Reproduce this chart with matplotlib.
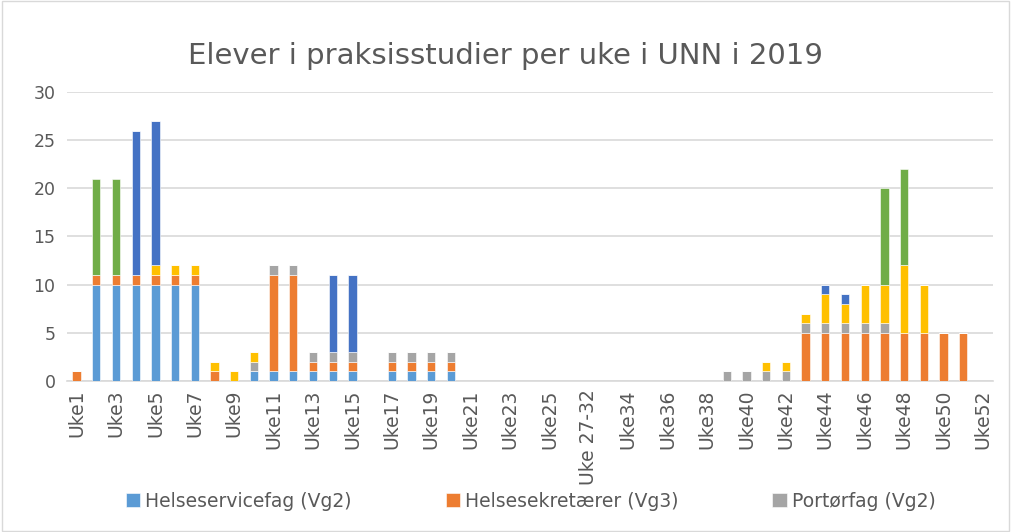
import numpy as np
import matplotlib
matplotlib.use("Agg")
import matplotlib.pyplot as plt
from matplotlib.patches import Rectangle

# uker: Uke1..Uke26, "Uke 27-32", Uke33..Uke52
uker = ["Uke%d" % i for i in range(1, 27)] + ["Uke 27-32"] + ["Uke%d" % i for i in range(33, 53)]
n = len(uker)

def serie(verdier):
    # verdier: dict {ukenummer-label: antall}
    return np.array([verdier.get(u, 0) for u in uker], dtype=float)

helseservice = serie({"Uke2": 10, "Uke3": 10, "Uke4": 10, "Uke5": 10, "Uke6": 10, "Uke7": 10,
                      "Uke10": 1, "Uke11": 1, "Uke12": 1, "Uke13": 1, "Uke14": 1, "Uke15": 1,
                      "Uke17": 1, "Uke18": 1, "Uke19": 1, "Uke20": 1})
helsesekretaer = serie({"Uke1": 1, "Uke2": 1, "Uke3": 1, "Uke4": 1, "Uke5": 1, "Uke6": 1, "Uke7": 1,
                        "Uke8": 1, "Uke11": 10, "Uke12": 10, "Uke13": 1, "Uke14": 1, "Uke15": 1,
                        "Uke17": 1, "Uke18": 1, "Uke19": 1, "Uke20": 1,
                        "Uke43": 5, "Uke44": 5, "Uke45": 5, "Uke46": 5, "Uke47": 5, "Uke48": 5,
                        "Uke49": 5, "Uke50": 5, "Uke51": 5})
portor = serie({"Uke10": 1, "Uke11": 1, "Uke12": 1, "Uke13": 1, "Uke14": 1, "Uke15": 1,
                "Uke17": 1, "Uke18": 1, "Uke19": 1, "Uke20": 1,
                "Uke39": 1, "Uke40": 1, "Uke41": 1, "Uke42": 1, "Uke43": 1, "Uke44": 1,
                "Uke45": 1, "Uke46": 1, "Uke47": 1})
gul = serie({"Uke5": 1, "Uke6": 1, "Uke7": 1, "Uke8": 1, "Uke9": 1, "Uke10": 1,
             "Uke41": 1, "Uke42": 1, "Uke43": 1, "Uke44": 3, "Uke45": 2, "Uke46": 4,
             "Uke47": 4, "Uke48": 7, "Uke49": 5})
morkbla = serie({"Uke4": 15, "Uke5": 15, "Uke14": 8, "Uke15": 8, "Uke44": 1, "Uke45": 1})
gronn = serie({"Uke2": 10, "Uke3": 10, "Uke47": 10, "Uke48": 10})

serier = [("Helseservicefag (Vg2)", helseservice, "#5B9BD5"),
          ("Helsesekretærer (Vg3)", helsesekretaer, "#ED7D31"),
          ("Portørfag (Vg2)", portor, "#A5A5A5"),
          (None, gul, "#FFC000"),
          (None, morkbla, "#4472C4"),
          (None, gronn, "#70AD47")]

fig = plt.figure(figsize=(10.11, 5.32), dpi=100)
ax = fig.add_axes([0.066, 0.284, 0.916, 0.543])

x = np.arange(n)
bunn = np.zeros(n)
handles = []
for navn, v, farge in serier:
    b = ax.bar(x, v, 0.42, bottom=bunn, color=farge, edgecolor="white", linewidth=0.4, zorder=3)
    if navn:
        handles.append((b, navn))
    bunn += v

ax.set_xlim(-0.5, n - 0.5)
ax.set_ylim(0, 30)
ax.set_yticks(range(0, 31, 5))
ax.grid(axis="y", color="#D9D9D9", linewidth=1.2, zorder=0)
for s in ["top", "right", "left"]:
    ax.spines[s].set_visible(False)
ax.spines["bottom"].set_color("#D9D9D9")
ax.spines["bottom"].set_linewidth(1.2)
ax.tick_params(axis="y", length=0, labelsize=12.5, colors="#595959", pad=8)
ax.tick_params(axis="x", length=0, labelsize=13.5, colors="#595959", pad=6)
ax.set_xticks(x[::2])
ax.set_xticklabels(uker[::2], rotation=90)

fig.text(0.5, 0.895, "Elever i praksisstudier per uke i UNN i 2019", ha="center", va="center",
         fontsize=21, color="#595959")

fig.legend([h for h, _ in handles], [t for _, t in handles], loc="center", ncol=3,
           bbox_to_anchor=(0.525, 0.058), frameon=False, fontsize=13.5, labelcolor="#595959",
           handlelength=0.75, handleheight=0.75, columnspacing=5.0, handletextpad=0.3)

fig.patches.append(Rectangle((0.002, 0.002), 0.996, 0.996, transform=fig.transFigure,
                             fill=False, edgecolor="#D9D9D9", linewidth=1))

fig.savefig("out.png", dpi=100)
